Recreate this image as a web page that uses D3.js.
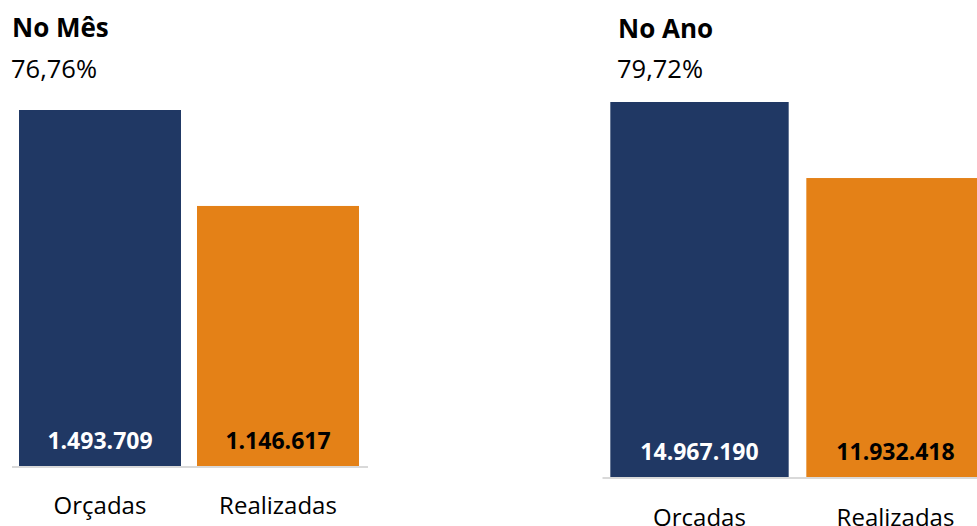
<!DOCTYPE html>
<html>
<head>
<meta charset="utf-8">
<script src="https://cdn.jsdelivr.net/npm/d3@7"></script>
<style>
  html, body { margin: 0; padding: 0; background: #fff; overflow: hidden; }
  svg { display: block; font-family: "Open Sans", sans-serif; }
</style>
</head>
<body>
<svg id="chart" width="977" height="526"></svg>
<script>
// data
const categories = ['Orçadas', 'Realizadas'];
const mesValues = [1493709, 1146617];
const anoValues = [14967190, 11932418];
const panelTitles = ['No Mês', 'No Ano'];

const colors = ['#203864', '#E48117'];
const labelColors = ['#ffffff', '#000000'];

const ptBR = d3.formatLocale({ decimal: ',', thousands: '.', grouping: [3], currency: ['R$', ''] });
const fmtInt = ptBR.format(',d');
const fmtPct = ptBR.format('.2%');

const svg = d3.select('#chart');

// panel layout
const panels = [
  { title: panelTitles[0], values: mesValues, x0: 11, x1: 367, base: 466, top: 110, yMin: 206000, titleX: 12, titleY: 37, catY: 514 },
  { title: panelTitles[1], values: anoValues, x0: 601.5, x1: 993.5, base: 477, top: 102, yMin: 0, titleX: 618, titleY: 38, catY: 526 }
];

panels.forEach(p => {
  const g = svg.append('g');

  const x = d3.scaleBand()
    .domain(categories)
    .range([p.x0, p.x1])
    .paddingInner(0.09)
    .paddingOuter(0.045);

  const y = d3.scaleLinear()
    .domain([p.yMin, d3.max(p.values)])
    .range([p.base, p.top]);

  const rows = categories.map((c, i) => ({ cat: c, value: p.values[i], i }));

  // title + ratio
  g.append('text')
    .attr('x', p.titleX)
    .attr('y', p.titleY)
    .style('font-weight', 700)
    .style('font-size', '26px')
    .text(p.title);

  g.append('text')
    .attr('x', p.titleX - 1)
    .attr('y', 78)
    .style('font-size', '25.5px')
    .text(fmtPct(p.values[1] / p.values[0]));

  g.selectAll('rect.bar')
    .data(rows)
    .enter()
    .append('rect')
    .attr('class', 'bar')
    .attr('x', d => x(d.cat))
    .attr('y', d => y(d.value))
    .attr('width', x.bandwidth())
    .attr('height', d => p.base - y(d.value))
    .attr('fill', d => colors[d.i]);

  // axis line
  g.append('line')
    .attr('x1', p.x0 + 1)
    .attr('x2', p.x1 + 1)
    .attr('y1', p.base + 1)
    .attr('y2', p.base + 1)
    .attr('stroke', '#d9d9d9')
    .attr('stroke-width', 2);

  g.selectAll('text.val')
    .data(rows)
    .enter()
    .append('text')
    .attr('class', 'val')
    .attr('x', d => x(d.cat) + x.bandwidth() / 2)
    .attr('y', p.base - 17)
    .attr('text-anchor', 'middle')
    .style('font-weight', 700)
    .style('font-size', '23px')
    .style('fill', d => labelColors[d.i])
    .text(d => fmtInt(d.value));

  g.selectAll('text.cat')
    .data(rows)
    .enter()
    .append('text')
    .attr('class', 'cat')
    .attr('x', d => x(d.cat) + x.bandwidth() / 2)
    .attr('y', p.catY)
    .attr('text-anchor', 'middle')
    .style('font-size', '24px')
    .text(d => d.cat);
});
</script>
</body>
</html>
